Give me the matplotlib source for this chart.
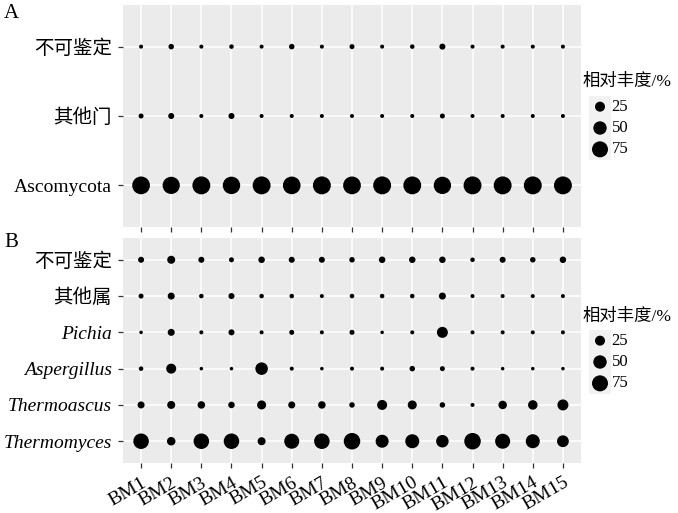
import numpy as np
import matplotlib
matplotlib.use("Agg")
import matplotlib.pyplot as plt

plt.rcParams['font.family'] = ['Liberation Serif', 'Noto Sans CJK SC']

samples = ["BM%d" % i for i in range(1, 16)]

# panel A (phylum level), relative abundance %
phyla = ["Ascomycota", "其他门", "不可鉴定"]
unident_a = [1.8, 5.1, 1.8, 2.7, 1.8, 5.1, 1.8, 3.8, 1.8, 2.7, 6.6, 1.8, 1.8, 1.8, 1.8]
other_a = [3.8, 6.6, 1.8, 6.6, 1.8, 1.8, 1.8, 1.8, 1.8, 1.8, 3.8, 1.8, 1.8, 1.8, 1.8]
asco = [94.4, 88.3, 96.4, 90.7, 96.4, 93.1, 96.4, 94.4, 96.4, 95.5, 89.6, 96.4, 96.4, 96.4, 96.4]

# panel B (genus level), relative abundance %
genera = ["Thermomyces", "Thermoascus", "Aspergillus", "Pichia", "其他属", "不可鉴定"]
thermomyces = [69.8, 16.7, 69.8, 69.8, 14.3, 64.8, 69.8, 80.4, 46.6, 55.3, 42.6, 80.4, 64.8, 55.3, 37.0]
thermoascus = [10.1, 14.3, 12.1, 8.2, 19.3, 10.1, 12.1, 5.1, 25.0, 19.3, 5.1, 1.8, 16.7, 22.0, 31.5]
aspergillus = [2.7, 25.0, 1.1, 1.1, 42.6, 1.8, 1.1, 1.8, 1.8, 5.1, 3.8, 1.8, 1.1, 1.1, 1.1]
pichia = [1.1, 10.1, 1.8, 6.6, 1.8, 3.8, 1.8, 3.8, 1.1, 1.8, 31.5, 1.8, 1.8, 1.8, 1.8]
other_b = [3.8, 10.1, 2.7, 6.6, 2.7, 2.7, 1.8, 2.7, 2.7, 2.7, 10.1, 1.8, 1.8, 1.8, 1.8]
unident_b = [6.6, 14.3, 6.6, 3.8, 8.2, 6.6, 6.6, 5.1, 8.2, 8.2, 8.2, 2.7, 6.6, 5.1, 8.2]

legend_vals = [25, 50, 75]


def dot_size(v):
    d_px = 1.8 + 1.64 * np.sqrt(np.asarray(v, dtype=float))
    return (d_px * 0.72) ** 2


W, H = 678, 513
fig = plt.figure(figsize=(W / 100, H / 100), dpi=100)


def px(x0, y0, x1, y1):
    return [x0 / W, 1 - y1 / H, (x1 - x0) / W, (y1 - y0) / H]


def style(ax):
    ax.set_facecolor("#EBEBEB")
    for s in ax.spines.values():
        s.set_visible(False)
    ax.grid(True, color="white", linewidth=1.1)
    ax.set_axisbelow(True)
    ax.tick_params(length=3.5, width=0.9, color="#333333", pad=4.5, labelsize=14)
    ax.set_xlim(-0.6, len(samples) - 0.4)


def panel(ax, labels, rows):
    xs = np.arange(len(samples))
    for i, vals in enumerate(rows):
        ax.scatter(xs, [i + 1] * len(xs), s=dot_size(vals), color="black", zorder=3, linewidths=0)
    ax.set_ylim(0.4, len(labels) + 0.6)
    ax.set_yticks(np.arange(1, len(labels) + 1))
    ax.set_yticklabels(labels)
    ax.set_xticks(xs)
    for t in ax.get_yticklabels():
        if t.get_text() in ("Thermomyces", "Thermoascus", "Aspergillus", "Pichia"):
            t.set_fontstyle("italic")


def size_legend(title_y, key_top):
    lax = fig.add_axes(px(589, key_top, 611, key_top + 64))
    lax.set_facecolor("#F2F2F2")
    for s in lax.spines.values():
        s.set_visible(False)
    lax.set_xticks([])
    lax.set_yticks([])
    ys = [3, 2, 1]
    lax.scatter([0] * 3, ys, s=dot_size(legend_vals), color="black", linewidths=0)
    lax.set_xlim(-1, 1)
    lax.set_ylim(0.5, 3.5)
    for v, y in zip(legend_vals, ys):
        lax.text(1.05, y, str(v), fontsize=12, va="center", ha="left", transform=lax.transData)
    fig.text(583 / W, 1 - title_y / H, "相对丰度/%", fontsize=12.5, va="center", ha="left")


axA = fig.add_axes(px(123, 5, 581, 227))
style(axA)
panel(axA, phyla, [asco, other_a, unident_a])
axA.set_xticklabels([])

axB = fig.add_axes(px(123, 238, 581, 463))
style(axB)
panel(axB, genera, [thermomyces, thermoascus, aspergillus, pichia, other_b, unident_b])
axB.set_xticklabels(samples, rotation=30, ha="right", va="top", rotation_mode="anchor")

fig.text(4 / W, 1 - 14 / H, "A", fontsize=15, va="center", ha="left")
fig.text(4 / W, 1 - 243 / H, "B", fontsize=15, va="center", ha="left")

size_legend(82, 96)
size_legend(317, 330)

fig.savefig("out.png", dpi=100)
